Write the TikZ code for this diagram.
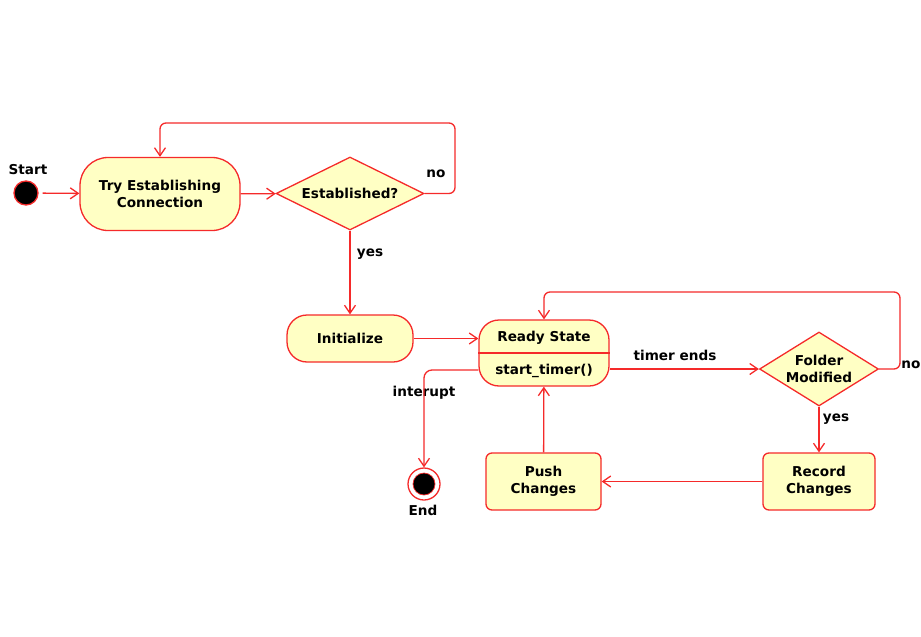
\documentclass[tikz,border=0pt]{standalone}
\usepackage{fontspec}
\setmainfont{DejaVu Sans}
\usetikzlibrary{shapes.geometric,arrows.meta}
\definecolor{lr}{HTML}{F52A2A}
\definecolor{ly}{HTML}{FFFFC4}
\begin{document}
\begin{tikzpicture}[x=1pt,y=-1pt, font=\fontsize{13.6}{16.5}\selectfont\bfseries,
  state/.style={draw=lr, fill=ly, line width=1.3pt, align=center, inner sep=0pt},
  dec/.style={diamond, draw=lr, fill=ly, line width=1.3pt, align=center, inner sep=0pt},
  flow/.style={draw=lr, line width=1.3pt, -{Straight Barb[length=8pt,width=11pt]}},
  lbl/.style={inner sep=0pt}]
\useasboundingbox (0,0) rectangle (921,637);

% nodes
\node[circle, draw=lr, fill=black, line width=1.3pt, minimum size=24pt, inner sep=0pt] (start) at (26,193) {};
\node[lbl] (startl) at (28,169.5) {Start};
\node[state, rounded corners=28pt, minimum width=160pt, minimum height=73pt] (try) at (160,194) {Try Establishing\\Connection};
\node[dec, aspect=2, minimum width=148pt, minimum height=73pt] (est) at (350,193.5) {Established?};
\node[state, rounded corners=20pt, minimum width=126pt, minimum height=47pt] (init) at (350,338.5) {Initialize};
\node[state, rounded corners=20pt, minimum width=130pt, minimum height=66pt] (ready) at (544,353) {};
\draw[draw=lr, line width=1.3pt] (ready.west) -- (ready.east);
\node[lbl] (readyt) at (544,337.5) {Ready State};
\node[lbl] (readyb) at (544,370.5) {start\_timer()};
\node[dec, aspect=1.6, minimum width=119pt, minimum height=74pt] (fold) at (819,369) {Folder\\Modified};
\node[state, rounded corners=6pt, minimum width=112pt, minimum height=57pt] (rec) at (819,481.5) {Record\\Changes};
\node[state, rounded corners=6pt, minimum width=115pt, minimum height=57pt] (push) at (543.5,481.5) {Push\\Changes};
\node[circle, draw=lr, fill=white, line width=1.3pt, minimum size=32pt, inner sep=0pt] (end) at (424,484) {};
\node[circle, draw=lr, fill=black, line width=0.7pt, minimum size=22pt, inner sep=0pt] (endin) at (424,484) {};
\node[lbl] (endl) at (423,510) {End};

% labels
\node[lbl] (no1) at (436,173.5) {no};
\node[lbl] (yes1) at (370,254) {yes};
\node[lbl] (timer) at (675,355) {timer ends};
\node[lbl] (intr) at (424,393) {interupt};
\node[lbl] (no2) at (911,365) {no};
\node[lbl] (yes2) at (836,419) {yes};

% connectors
\draw[flow, shorten <=4pt] (start) -- (try);
\draw[flow] (try) -- (est);
\draw[flow, rounded corners=6pt] (est.east) -- (455,193.5) -- (455,123) -- (try.north |- 0,123) -- (try.north);
\draw[flow] (est) -- (init);
\draw[flow] (init.east) -- (init.east -| ready.west);
\draw[flow] (ready.east |- fold.west) -- (fold.west);
\draw[flow, rounded corners=6pt] (fold.east) -- (900,369) -- (900,292) -- (ready.north |- 0,292) -- (ready.north);
\draw[flow] (fold) -- (rec);
\draw[flow] (rec) -- (push);
\draw[flow] (push) -- (ready);
\draw[flow, rounded corners=8pt] (ready.west |- 0,370) -- (424,370) -- (end.north);
\end{tikzpicture}
\end{document}
